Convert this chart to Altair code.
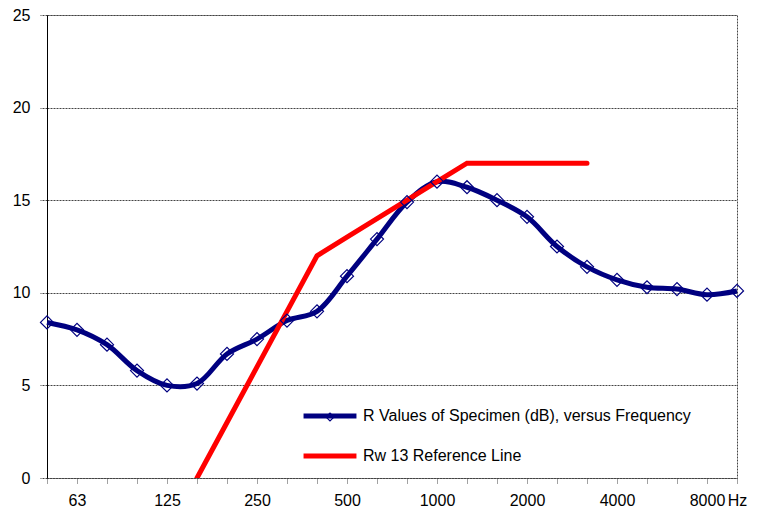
import altair as alt
import pandas as pd

# Third-octave bands (Hz)
freq_bands = ["50", "63", "80", "100", "125", "160", "200", "250", "315", "400",
              "500", "630", "800", "1000", "1250", "1600", "2000", "2500", "3150",
              "4000", "5000", "6300", "8000", "10000"]
# Measured R values (dB)
r_values = [8.4, 8.0, 7.2, 5.8, 5.0, 5.1, 6.7, 7.5, 8.5, 9.0, 10.9, 12.9, 14.9,
            16.0, 15.7, 15.0, 14.1, 12.5, 11.4, 10.7, 10.3, 10.2, 9.9, 10.1]
# Reference curve (Rw 13)
ref_bands = ["160", "200", "250", "315", "400", "500", "630", "800", "1000",
             "1250", "1600", "2000", "2500", "3150"]
ref_values = [0, 3, 6, 9, 12, 13, 14, 15, 16, 17, 17, 17, 17, 17]
# Axis labels
tick_labels = ["", "63", "", "", "125", "", "", "250", "", "", "500", "", "",
               "1000", "", "", "2000", "", "", "4000", "", "", "8000", "Hz"]
y_ticks = [0, 5, 10, 15, 20, 25]

SER_R = "R Values of Specimen (dB), versus Frequency"
SER_REF = "Rw 13 Reference Line"

rows = []
for i, (f, v) in enumerate(zip(freq_bands, r_values)):
    rows.append({"idx": i, "freq": f, "value": v, "series": SER_R})
for f, v in zip(ref_bands, ref_values):
    rows.append({"idx": freq_bands.index(f), "freq": f, "value": v, "series": SER_REF})
df = pd.DataFrame(rows)

FONT = "Liberation Sans"
FS = 16
label_expr = "[" + ",".join("'%s'" % t for t in tick_labels) + "][datum.value]"

x = alt.X("idx:Q",
          scale=alt.Scale(domain=[0, len(freq_bands) - 1], nice=False, zero=False),
          axis=alt.Axis(values=list(range(len(freq_bands))), labelExpr=label_expr,
                        title=None, grid=False, domain=False, tickSize=5,
                        tickColor="#444", tickDash=[1, 1], labelPadding=9,
                        labelFontSize=FS, labelFont=FONT, labelColor="black",
                        labelOverlap=False, labelFlush=False, labelBound=False))
y = alt.Y("value:Q",
          scale=alt.Scale(domain=[0, 25], nice=False),
          axis=alt.Axis(values=y_ticks, title=None, grid=True, gridColor="#444",
                        gridDash=[2, 1], domain=True, domainColor="black",
                        domainWidth=1, tickSize=7, tickColor="#444",
                        tickDash=[2, 1], labelPadding=10, labelFontSize=FS,
                        labelFont=FONT, labelColor="black"))
color = alt.Color("series:N",
                  scale=alt.Scale(domain=[SER_R, SER_REF], range=["#000080", "#ff0000"]),
                  legend=alt.Legend(title=None, orient="none", legendX=254, legendY=391,
                                    symbolType="stroke", symbolStrokeWidth=5,
                                    symbolSize=2800, clipHeight=20, rowPadding=20,
                                    labelOffset=4, labelFontSize=FS, labelFont=FONT,
                                    labelColor="black", padding=0, labelLimit=600))
shape = alt.Shape("series:N",
                  scale=alt.Scale(domain=[SER_R], range=["diamond"]),
                  legend=alt.Legend(title=None, orient="none", legendX=278, legendY=397,
                                    labelExpr="''", labelFontSize=1, symbolSize=64,
                                    symbolFillColor="white", symbolStrokeColor="#000080",
                                    symbolStrokeWidth=1.2, padding=0, symbolOpacity=1))

base = alt.Chart(df)
blue_line = base.transform_filter(alt.datum.series == SER_R).mark_line(
    strokeWidth=5, interpolate="catmull-rom").encode(x=x, y=y, color=color)
red_line = base.transform_filter(alt.datum.series == SER_REF).mark_line(
    strokeWidth=5, strokeCap="round", clip=True).encode(x=x, y=y, color=color)
points = base.transform_filter(alt.datum.series == SER_R).mark_point(
    filled=False, size=170, strokeWidth=1.2, color="#000080",
    opacity=1).encode(x=x, y=y, shape=shape)

chart = alt.layer(blue_line, red_line, points).properties(
    width=690, height=463,
    autosize=alt.AutoSizeParams(type="none"),
    padding={"left": 39, "top": 7, "right": 15, "bottom": 30},
).configure_view(stroke="#444", strokeDash=[2, 1], strokeWidth=1)

chart.save("out.html", embed_options={"renderer": "svg", "actions": False})
